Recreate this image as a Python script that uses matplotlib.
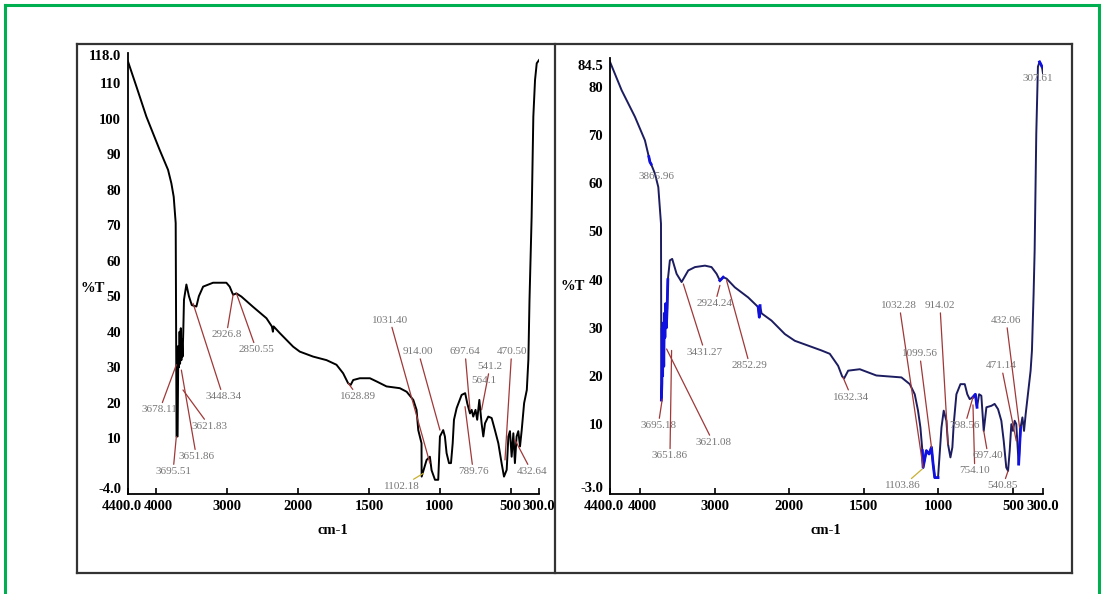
import numpy as np
import matplotlib
matplotlib.use("Agg")
import matplotlib.pyplot as plt
from matplotlib.lines import Line2D
import matplotlib.transforms as mtransforms

plt.rcParams['font.family'] = ['Liberation Serif', 'DejaVu Serif']

# ---------------- data ----------------
left_wn = [4400, 4282, 4141, 3953, 3835, 3788, 3755, 3727, 3715, 3700, 3690, 3680, 3672, 3665,
           3655, 3647, 3640, 3630, 3620, 3610, 3576, 3540, 3500, 3435, 3400, 3340, 3200, 3012,
           2965, 2917, 2870, 2800, 2635, 2446, 2370, 2355, 2345, 2257, 2070, 1988, 1894, 1799,
           1729, 1682, 1647, 1629, 1611, 1564, 1493, 1446, 1376, 1282, 1234, 1187, 1164, 1152,
           1129, 1128, 1093, 1070, 1058, 1034, 1011, 999, 976, 964, 952, 935, 921, 909, 900,
           881, 846, 821, 806, 787, 775, 764, 748, 736, 721, 705, 693, 681, 658, 634, 611, 587,
           564, 547, 528, 516, 505, 493, 481, 470, 458, 446, 434, 422, 405, 386, 375, 367, 358,
           352, 340, 328, 316, 300]
left_t = [116.1, 109.1, 100.6, 91.2, 85.6, 81.8, 78.0, 70.6, 10.5, 10.5, 36.0, 30.0, 40.0, 31.0,
          41.0, 32.0, 38.0, 33.0, 40.0, 49.0, 53.3, 50.0, 47.5, 47.1, 50.0, 52.7, 53.8, 53.8,
          52.7, 50.4, 50.8, 49.9, 47.0, 43.8, 41.5, 40.0, 41.5, 39.6, 35.8, 34.4, 33.0, 32.0,
          30.7, 28.3, 25.5, 25.0, 26.4, 26.9, 26.9, 26.0, 24.6, 24.1, 23.1, 20.8, 18.0, 12.3,
          8.6, -0.8, 3.9, 4.8, 1.0, -1.7, -1.7, 10.5, 12.3, 10.5, 5.8, 3.0, 3.0, 8.6, 15.2,
          18.5, 22.2, 22.7, 19.8, 17.0, 18.0, 16.1, 18.0, 15.2, 20.8, 14.2, 10.5, 14.2, 16.1,
          15.7, 12.3, 8.6, 3.0, -0.8, 1.1, 10.5, 12.0, 4.8, 11.4, 3.0, 10.5, 12.0, 7.7, 12.3,
          19.9, 23.6, 32.1, 49.0, 63.0, 72.4, 100.6, 110.9, 115.6, 116.5]

right_wn = [4400, 4244, 4066, 3932, 3880, 3865, 3850, 3798, 3753, 3717, 3712, 3705, 3700, 3695,
            3688, 3680, 3672, 3665, 3655, 3645, 3635, 3625, 3598, 3567, 3508, 3441, 3352, 3262,
            3128, 3040, 2972, 2928, 2884, 2838, 2728, 2549, 2415, 2400, 2390, 2370, 2237, 2058,
            1962, 1873, 1784, 1728, 1672, 1645, 1632, 1605, 1527, 1416, 1248, 1192, 1159, 1137,
            1121, 1108, 1103, 1081, 1063, 1047, 1036, 1025, 1003, 980, 965, 947, 936, 920, 907,
            898, 880, 853, 824, 807, 791, 769, 753, 742, 728, 713, 697, 679, 646, 624, 601, 579,
            563, 546, 534, 523, 512, 501, 490, 479, 463, 450, 438, 427, 416, 401, 383, 374, 363,
            356, 345, 334, 323, 316, 307, 300]
right_t = [85.2, 79.3, 73.8, 68.9, 65.5, 64.4, 64.0, 62.0, 59.2, 51.6, 15.0, 18.5, 30.0, 20.0,
           31.0, 22.0, 33.0, 28.0, 35.0, 30.0, 34.0, 40.0, 44.0, 44.3, 41.2, 39.5, 41.9, 42.6,
           42.9, 42.6, 41.2, 39.8, 40.5, 40.2, 38.4, 36.3, 34.3, 32.2, 34.6, 33.0, 31.5, 28.7,
           27.3, 26.3, 25.3, 24.6, 22.1, 19.9, 19.5, 21.1, 21.4, 20.1, 19.7, 18.3, 16.2, 12.8,
           9.3, 4.5, 1.0, 4.5, 3.8, 5.2, 1.7, -1.1, -1.1, 9.3, 12.8, 10.7, 5.8, 3.1, 5.2,
           10.0, 16.2, 18.3, 18.3, 16.2, 15.2, 15.6, 16.2, 13.5, 16.2, 15.9, 8.6, 13.5, 13.8,
           14.2, 13.1, 10.7, 6.5, 1.0, 0.3, 4.5, 10.0, 8.6, 10.7, 10.0, 1.7, 9.3, 11.4, 8.6,
           12.1, 16.2, 21.1, 25.3, 37.0, 46.0, 70.3, 84.2, 85.2, 84.8, 84.2, 82.8]

x_ticks = [4400, 4000, 3000, 2000, 1500, 1000, 500, 300]
x_ticklabels = ["4400.0", "4000", "3000", "2000", "1500", "1000", "500", "300.0"]
left_yticks = [-4, 10, 20, 30, 40, 50, 60, 70, 80, 90, 100, 110, 118]
left_yticklabels = ["-4.0", "10", "20", "30", "40", "50", "60", "70", "80", "90", "100", "110", "118.0"]
right_yticks = [-3, 10, 20, 30, 40, 50, 60, 70, 80, 84.5]
right_yticklabels = ["-3.0", "10", "20", "30", "40", "50", "60", "70", "80", "84.5"]

left_labels = ["3695.51", "3651.86", "3678.11", "3621.83", "3448.34", "2926.8", "2850.55",
               "1628.89", "1031.40", "914.00", "697.64", "541.2", "564.1", "470.50", "789.76",
               "432.64", "1102.18"]
right_labels = ["3865.96", "3695.18", "3651.86", "3621.08", "3431.27", "2924.24", "2852.29",
                "1632.34", "1032.28", "914.02", "1099.56", "1103.86", "798.56", "754.10",
                "697.40", "540.85", "471.14", "432.06", "307.61"]

# ---------------- layout (label leader tips / text positions) ----------------
left_tips = [(3718, 10.5), (3647, 29.2), (3718, 30.7), (3624, 23.6), (3482, 48), (2917, 50.4),
             (2870, 50.8), (1646, 25.5), (1070, 3.0), (999, 12.3), (787, 18), (705, 18), None,
             (540, 3.9), (822, 18.9), (469, 9.5), (1117, 0.1)]
left_pos = [(3764, 0.6), (3435, 4.8), (3953, 18), (3246, 13.3), (3058, 21.7), (3011, 39.1),
            (2588, 34.9), (1576, 21.7), (1352, 43.3), (1152, 34.4), (822, 34.4), (646, 30.2),
            (688, 26.4), (493, 34.4), (764, 0.6), (352, 0.6), (1270, -3.6)]
right_tips = [None, (3700, 15.2), (3575, 25.3), (3642, 25.6), (3418, 39.1), (2928, 38.8),
              (2838, 39.8), (1639, 19.7), (1103, 1.0), (936, 5.8), (1047, 5.2), (1108, 0.7),
              (769, 15.6), (769, 14.0), (697, 8.6), (534, 0.3), (479, 6.5), (457, 9.3), None]
right_pos = [(3776, 61.3), (3754, 9.7), (3597, 3.4), (3017, 6.2), (3129, 24.9), (2994, 35),
             (2526, 22.1), (1583, 15.6), (1262, 34.6), (990, 34.6), (1126, 24.6), (1237, -2.8),
             (824, 9.7), (757, 0.3), (668, 3.4), (568, -2.8), (579, 22.1), (546, 31.5), (334, 81.7)]
right_blue = [(3712, 3625), (3880, 3850), (2935, 2880), (2415, 2385), (1110, 1000), (790, 740),
              (470, 440), (325, 305)]


def fwd(w):
    w = np.asarray(w, float)
    return np.where(w > 2000, 2000 + (w - 2000) / 2.0, w)


def inv(p):
    p = np.asarray(p, float)
    return np.where(p > 2000, 2000 + 2 * (p - 2000), p)


fig = plt.figure(figsize=(11.04, 5.94), dpi=100)
W, H = 1104.0, 594.0


def fx(px):
    return px / W


def fy(py):
    return 1 - py / H


# frames
green = '#00b050'
for xs, ys in [((5, 5), (5, 594)), ((5, 1099), (5, 5)), ((1099, 1099), (5, 594))]:
    fig.add_artist(Line2D([fx(xs[0]), fx(xs[1])], [fy(ys[0]), fy(ys[1])], color=green, lw=2.2,
                          transform=fig.transFigure))
frame_c = '#333333'
for xs, ys in [((77, 1072), (44, 44)), ((77, 1072), (573, 573)), ((77, 77), (44, 573)),
               ((1072, 1072), (44, 573)), ((555, 555), (44, 573))]:
    fig.add_artist(Line2D([fx(xs[0]), fx(xs[1])], [fy(ys[0]), fy(ys[1])], color=frame_c, lw=1.6,
                          transform=fig.transFigure))

TICK_FS = 10.5
LAB_FS = 8


def make_axes(rect, ylim, yticks, yticklabels):
    ax = fig.add_axes(rect)
    ax.set_xscale('function', functions=(fwd, inv))
    ax.set_xlim(4400, 300)
    ax.set_ylim(*ylim)
    ax.set_xticks(x_ticks)
    ax.set_xticklabels(x_ticklabels)
    ax.set_yticks(yticks)
    ax.set_yticklabels(yticklabels)
    ax.minorticks_off()
    for s in ['top', 'right']:
        ax.spines[s].set_visible(False)
    for s in ['left', 'bottom']:
        ax.spines[s].set_linewidth(1.3)
        ax.spines[s].set_color('black')
    ax.tick_params(axis='x', direction='in', length=4, width=1.2, pad=4, labelsize=TICK_FS)
    ax.tick_params(axis='y', direction='in', length=0, pad=5, labelsize=TICK_FS)
    for lab in ax.get_xticklabels() + ax.get_yticklabels():
        lab.set_fontweight('bold')
    # shift the first and second x labels apart so they only touch
    xl = ax.get_xticklabels()
    xl[0].set_transform(xl[0].get_transform() +
                        mtransforms.ScaledTranslation(-6 / 100, 0, fig.dpi_scale_trans))
    xl[1].set_transform(xl[1].get_transform() +
                        mtransforms.ScaledTranslation(2 / 100, 0, fig.dpi_scale_trans))
    ax.patch.set_alpha(0)
    return ax


def add_labels(ax, labels, tips, pos, lc):
    for s, tip, p in zip(labels, tips, pos):
        if tip is None:
            ax.text(p[0], p[1], s, ha='center', va='center', fontsize=LAB_FS, color='#777777')
        else:
            col = '#c8b030' if s in ('1103.86', '1102.18') else lc
            ax.annotate(s, xy=tip, xytext=p, textcoords='data', ha='center', va='center',
                        fontsize=LAB_FS, color='#777777', annotation_clip=False,
                        arrowprops=dict(arrowstyle='-', color=col, lw=0.9,
                                        shrinkA=0, shrinkB=0))


# left panel
axL = make_axes([fx(128), fy(494), (539 - 128) / W, (494 - 53) / H], (-5.7, 118.5),
                left_yticks, left_yticklabels)
axL.plot(left_wn, left_t, color='black', lw=1.4)
add_labels(axL, left_labels, left_tips, left_pos, '#a03838')
fig.text(fx(93), fy(288), '%T', fontsize=10.5, fontweight='bold', ha='center', va='center')
fig.text(fx(333), fy(530), 'cm-1', fontsize=10.5, fontweight='bold', ha='center', va='center')

# right panel
axR = make_axes([fx(610), fy(494), (1043 - 610) / W, (494 - 58) / H], (-4.5, 86.0),
                right_yticks, right_yticklabels)
rw = np.array(right_wn, float)
rt = np.array(right_t, float)
axR.plot(rw, rt, color='#1c1c60', lw=1.4)
for hi, lo in right_blue:
    m = (rw <= hi) & (rw >= lo)
    if m.sum() >= 2:
        axR.plot(rw[m], rt[m], color='#1010e0', lw=2.0)
add_labels(axR, right_labels, right_tips, right_pos, '#a03838')
fig.text(fx(573), fy(287), '%T', fontsize=10.5, fontweight='bold', ha='center', va='center')
fig.text(fx(826), fy(530), 'cm-1', fontsize=10.5, fontweight='bold', ha='center', va='center')

fig.savefig('out.png', dpi=100)
